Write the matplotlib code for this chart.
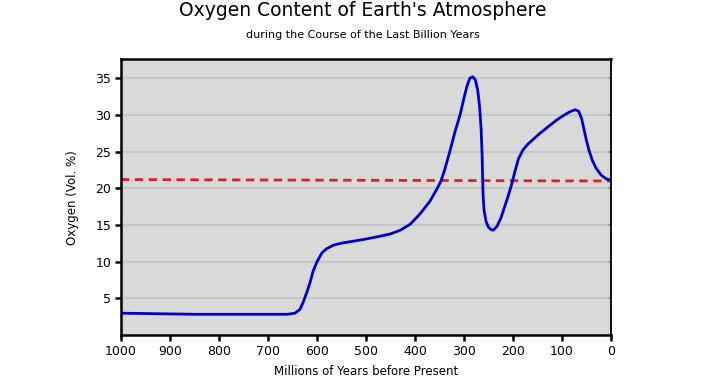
import matplotlib
matplotlib.use("Agg")
import matplotlib.pyplot as plt

# values (Myr before present, O2 vol. %)
age_myr = [1000, 950, 900, 850, 800, 750, 700, 660, 645, 635, 628, 621, 614, 608,
           600, 590, 580, 565, 545, 526, 500, 470, 450, 430, 410, 390, 370, 363,
           353, 347, 340, 329, 318, 308, 300, 294, 288, 282, 277, 272, 268, 265, 263, 262,
           261, 259, 255, 250, 245, 240, 233, 225, 218, 210, 203, 196, 189, 180,
           170, 160, 145, 130, 111, 95, 82, 73, 66, 60, 55, 50, 45, 38, 30, 20,
           10, 0]
oxygen = [3.0, 2.95, 2.9, 2.85, 2.85, 2.85, 2.85, 2.85, 3.0, 3.5, 4.5, 5.8, 7.2, 8.7,
          10.0, 11.2, 11.8, 12.3, 12.6, 12.8, 13.1, 13.5, 13.8, 14.3, 15.1, 16.5, 18.2, 19.0,
          20.2, 21.0, 22.4, 25.0, 27.8, 30.0, 32.3, 33.9, 35.0, 35.2, 34.8, 33.4, 31.0, 28.0, 24.5, 21.5,
          19.0, 17.0, 15.5, 14.7, 14.4, 14.3, 14.8, 15.9, 17.3, 18.9, 20.5, 22.3, 24.0, 25.2,
          26.0, 26.6, 27.5, 28.3, 29.3, 30.0, 30.5, 30.7, 30.5, 29.5, 28.0, 26.5, 25.2, 23.8, 22.7, 21.8,
          21.3, 21.1]
today_age = [1000, 0]
today_level = [21.2, 21.0]

y_ticks = [5, 10, 15, 20, 25, 30, 35]
x_ticks = [1000, 900, 800, 700, 600, 500, 400, 300, 200, 100, 0]

fig = plt.figure(figsize=(7.07, 3.78), dpi=100)
ax = fig.add_axes([0.1711, 0.1132, 0.6931, 0.7294])
ax.set_facecolor("#d9d9d9")

ax.set_yticks(y_ticks)
ax.yaxis.grid(True, color="#c6c6c6", lw=1.6)
ax.set_axisbelow(True)

ax.plot(today_age, today_level, color="#e02020", lw=2.0, ls=(0, (3, 2)))
ax.plot(age_myr, oxygen, color="#0000c8", lw=2.0, solid_capstyle="round", solid_joinstyle="round")

ax.set_xlim(1000, 0)
ax.set_ylim(0, 37.55)
ax.set_xticks(x_ticks)

for side in ("left", "bottom", "top"):
    ax.spines[side].set_linewidth(1.8)
    ax.spines[side].set_color("black")
ax.spines["right"].set_linewidth(1.3)
ax.spines["right"].set_color("black")

ax.tick_params(axis="both", labelsize=9, width=1.8, length=4, direction="out", pad=3)
ax.tick_params(axis="y", which="major", right=True, labelright=False)
for tick in ax.yaxis.get_major_ticks():
    tick.tick2line.set_markersize(2)
    tick.tick2line.set_markeredgecolor("#999999")
    tick.tick2line.set_markeredgewidth(1.2)
    tick.tick2line.set_marker(0)  # tick pointing inward from the right spine

ax.set_xlabel("Millions of Years before Present", fontsize=8.5, labelpad=5)
ax.set_ylabel("Oxygen (Vol. %)", fontsize=8.5, labelpad=12)

fig.text(0.513, 0.972, "Oxygen Content of Earth's Atmosphere", ha="center", va="center", fontsize=13.5)
fig.text(0.513, 0.908, "during the Course of the Last Billion Years", ha="center", va="center", fontsize=8)

fig.savefig("out.png", dpi=100)
